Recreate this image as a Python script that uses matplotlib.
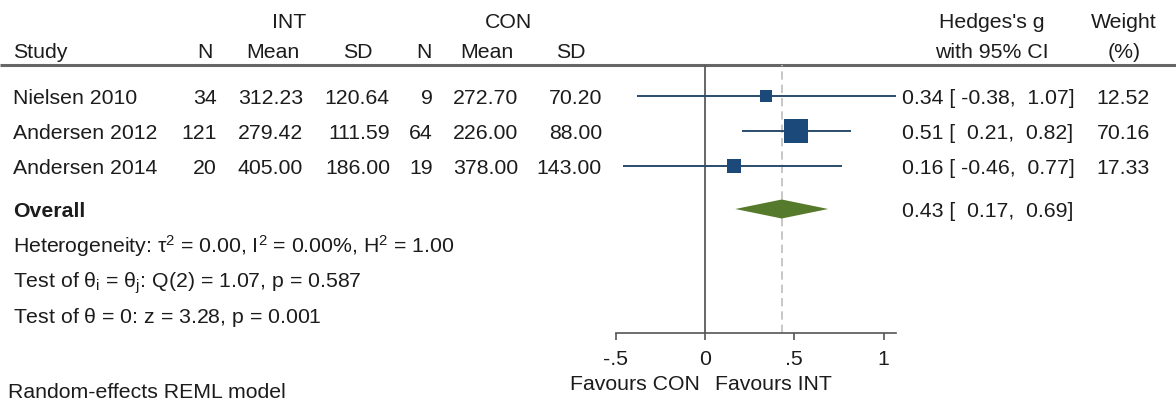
import matplotlib
matplotlib.use("Agg")
import matplotlib.pyplot as plt
from matplotlib.patches import Polygon
import numpy as np

plt.rcParams['font.family'] = ['Liberation Sans', 'DejaVu Sans']
plt.rcParams['mathtext.fontset'] = 'custom'
plt.rcParams['mathtext.rm'] = 'Liberation Sans'
plt.rcParams['mathtext.it'] = 'Liberation Sans'

studies = ["Nielsen 2010", "Andersen 2012", "Andersen 2014"]
int_n = [34, 121, 20]
int_mean = [312.23, 279.42, 405.00]
int_sd = [120.64, 111.59, 186.00]
con_n = [9, 64, 19]
con_mean = [272.70, 226.00, 378.00]
con_sd = [70.20, 88.00, 143.00]
g = [0.34, 0.51, 0.16]
ci_lo = [-0.38, 0.21, -0.46]
ci_hi = [1.07, 0.82, 0.77]
weights = [12.52, 70.16, 17.33]
overall_g, overall_lo, overall_hi = 0.43, 0.17, 0.69
xticks = [-0.5, 0, 0.5, 1]
xticklabels = ["-.5", "0", ".5", "1"]

W, H = 1176, 401
FS = 15.3
TXT = '#1c1c1c'
row_y = [96, 131, 166]      # row centres, pixels from top
overall_y = 209
cap = 7.6                   # half cap height in px -> baseline offset

fig = plt.figure(figsize=(W / 100, H / 100), dpi=100)
tx = fig.add_axes([0, 0, 1, 1])
tx.set_xlim(0, W)
tx.set_ylim(H, 0)
tx.axis('off')


def put(x, y, s, ha='left', **kw):
    tx.text(x, y + cap, s, ha=ha, va='baseline', fontsize=FS, color=TXT, **kw)


# column headers
put(289, 20, "INT", ha='center')
put(508, 20, "CON", ha='center')
put(13, 50, "Study")
for xc, lab in zip([205, 273, 358, 424, 487, 571], ["N", "Mean", "SD", "N", "Mean", "SD"]):
    put(xc, 50, lab, ha='center')
put(992, 20, "Hedges's g", ha='center')
put(992, 50, "with 95% CI", ha='center')
put(1124, 20, "Weight", ha='center')
put(1124, 50, "(%)", ha='center')
tx.plot([0, W], [65, 65], color='#666666', lw=2.2, solid_capstyle='butt')

# study rows
right_edges = [217, 303, 390, 433, 518, 602]
for i, y in enumerate(row_y):
    put(13, y, studies[i])
    cells = [f"{int_n[i]}", f"{int_mean[i]:.2f}", f"{int_sd[i]:.2f}",
             f"{con_n[i]}", f"{con_mean[i]:.2f}", f"{con_sd[i]:.2f}"]
    for xr, c in zip(right_edges, cells):
        put(xr, y, c, ha='right')
    put(902, y, f"{g[i]:.2f} [{ci_lo[i]:6.2f}, {ci_hi[i]:5.2f}]")
    put(1150, y, f"{weights[i]:.2f}", ha='right')

put(13, overall_y, "Overall", fontweight='bold')
put(902, overall_y, f"{overall_g:.2f} [{overall_lo:6.2f}, {overall_hi:5.2f}]")
put(13, 245, r"Heterogeneity: $\mathregular{\tau^{2}}$ = 0.00, $\mathregular{I^{2}}$ = 0.00%, $\mathregular{H^{2}}$ = 1.00")
put(13, 280, r"Test of $\mathregular{\theta_{i}}$ = $\mathregular{\theta_{j}}$: Q(2) = 1.07, p = 0.587")
put(13, 315, r"Test of $\mathregular{\theta}$ = 0: z = 3.28, p = 0.001")
put(700, 382, "Favours CON", ha='right')
put(715, 382, "Favours INT")
put(8, 390, "Random-effects REML model")

# forest panel: x in effect units, y in the same pixel rows as the table
x0, x1 = 615.7, 896.0
top, bot = 65, 333
ax = fig.add_axes([x0 / W, (H - bot) / H, (x1 - x0) / W, (bot - top) / H])
ax.patch.set_alpha(0)
ax.set_xlim(xticks[0], max(ci_hi))
ax.set_ylim(bot, top)
for s in ['top', 'left', 'right']:
    ax.spines[s].set_visible(False)
ax.spines['bottom'].set_color('#555555')
ax.spines['bottom'].set_linewidth(1.2)
ax.set_yticks([])
ax.set_xticks(xticks)
ax.set_xticklabels(xticklabels)
ax.tick_params(axis='x', direction='out', length=5, width=1.2, color='#555555',
               labelsize=FS, labelcolor=TXT, pad=7)

ax.axvline(0, color='#5a5a5a', lw=1.3, zorder=1)
ax.axvline(overall_g, color='#bdbdbd', lw=1.2, ls=(0, (5, 3)), zorder=1)

for i, y in enumerate(row_y):
    ax.plot([ci_lo[i], ci_hi[i]], [y, y], color='#2b4c6c', lw=1.4, zorder=2,
            solid_capstyle='butt')
    # square side grows with the square root of the study weight
    side_px = 4.0 + 2.45 * np.sqrt(weights[i])
    ax.plot(g[i], y, marker='s', ms=side_px * 0.72, mew=0,
            color='#1b4a7a', zorder=3)

hh = 9.5
ax.add_patch(Polygon([[overall_lo, overall_y], [overall_g, overall_y - hh],
                      [overall_hi, overall_y], [overall_g, overall_y + hh]],
                     closed=True, facecolor='#567a2b', edgecolor='none', zorder=3))

fig.savefig("out.png", dpi=100)
